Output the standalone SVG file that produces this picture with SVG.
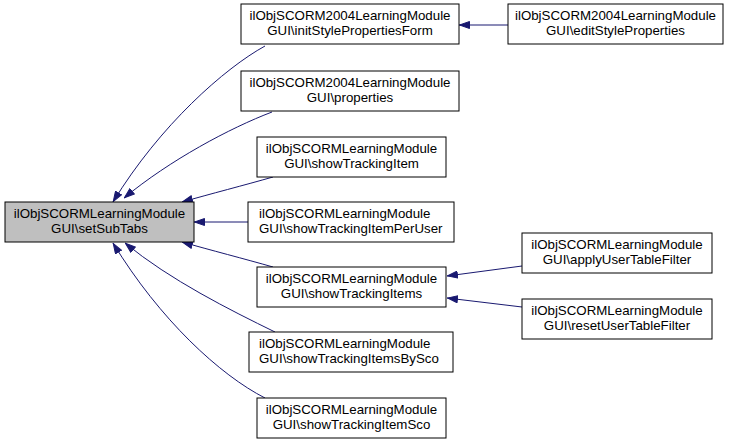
<svg xmlns="http://www.w3.org/2000/svg" width="731" height="444" viewBox="0 0 731 444">
<style>
.node rect{fill:#ffffff;stroke:#000000;stroke-width:1}
.node.main rect{fill:#bfbfbf}
.node text{font-family:"Liberation Sans",Arial,Helvetica,sans-serif;font-size:13.3px;fill:#000000}
.c{text-anchor:middle}
.l{text-anchor:start}
.edges path{fill:none;stroke:#191970;stroke-width:1;marker-end:url(#arrow)}
</style>
<defs>
<marker id="arrow" viewBox="0 0 11 8" refX="11" refY="4" markerWidth="11" markerHeight="8" markerUnits="userSpaceOnUse" orient="auto">
<path d="M0.5,0.5 L10.5,4 L0.5,7.5 z" fill="#191970" stroke="#191970" stroke-width="1"/>
</marker>
</defs>
<rect width="731" height="444" fill="#ffffff"/>
<g class="edges">
<path d="M265,46 C225,68 160,125 113,202"/>
<path d="M272,112 C230,128 170,160 124,198"/>
<path d="M273,177 C245,185 210,194 182,202"/>
<path d="M248,222 L194,222"/>
<path d="M273,267 C245,259 210,250 182,242"/>
<path d="M275,332 C230,310 170,280 125,243"/>
<path d="M265,398 C220,375 160,320 113,243"/>
<path d="M508,25 L459,25"/>
<path d="M522,266 L447,276"/>
<path d="M522,307 L447,298"/>
</g>
<g id="node-main" class="node main">
<rect x="5" y="202" width="189" height="40"/>
<text class="c" x="99.5" y="218">ilObjSCORMLearningModule</text>
<text class="c" x="99.5" y="233">GUI\setSubTabs</text>
</g>
<g id="node-initStyle" class="node">
<rect x="241" y="4" width="218" height="40"/>
<text class="c" x="350" y="20">ilObjSCORM2004LearningModule</text>
<text class="c" x="350" y="35">GUI\initStylePropertiesForm</text>
</g>
<g id="node-properties" class="node">
<rect x="241" y="71" width="218" height="40"/>
<text class="c" x="350" y="87">ilObjSCORM2004LearningModule</text>
<text class="c" x="350" y="102">GUI\properties</text>
</g>
<g id="node-showTrackingItem" class="node">
<rect x="257" y="137" width="189" height="40"/>
<text class="c" x="351.5" y="153">ilObjSCORMLearningModule</text>
<text class="c" x="351.5" y="168">GUI\showTrackingItem</text>
</g>
<g id="node-showTrackingItemPerUser" class="node">
<rect x="248" y="202" width="206" height="40"/>
<text class="l" x="259" y="218">ilObjSCORMLearningModule</text>
<text class="l" x="259" y="233">GUI\showTrackingItemPerUser</text>
</g>
<g id="node-showTrackingItems" class="node">
<rect x="257" y="267" width="189" height="40"/>
<text class="c" x="351.5" y="283">ilObjSCORMLearningModule</text>
<text class="c" x="351.5" y="298">GUI\showTrackingItems</text>
</g>
<g id="node-showTrackingItemsBySco" class="node">
<rect x="249" y="332" width="204" height="40"/>
<text class="l" x="259" y="348">ilObjSCORMLearningModule</text>
<text class="l" x="259" y="363">GUI\showTrackingItemsBySco</text>
</g>
<g id="node-showTrackingItemSco" class="node">
<rect x="257" y="398" width="189" height="40"/>
<text class="c" x="351.5" y="414">ilObjSCORMLearningModule</text>
<text class="c" x="351.5" y="429">GUI\showTrackingItemSco</text>
</g>
<g id="node-editStyleProperties" class="node">
<rect x="508" y="4" width="215" height="40"/>
<text class="c" x="615.5" y="20">ilObjSCORM2004LearningModule</text>
<text class="c" x="615.5" y="35">GUI\editStyleProperties</text>
</g>
<g id="node-applyUserTableFilter" class="node">
<rect x="522" y="233" width="190" height="40"/>
<text class="c" x="617" y="249">ilObjSCORMLearningModule</text>
<text class="c" x="617" y="264">GUI\applyUserTableFilter</text>
</g>
<g id="node-resetUserTableFilter" class="node">
<rect x="522" y="299" width="190" height="40"/>
<text class="c" x="617" y="315">ilObjSCORMLearningModule</text>
<text class="c" x="617" y="330">GUI\resetUserTableFilter</text>
</g>
</svg>
